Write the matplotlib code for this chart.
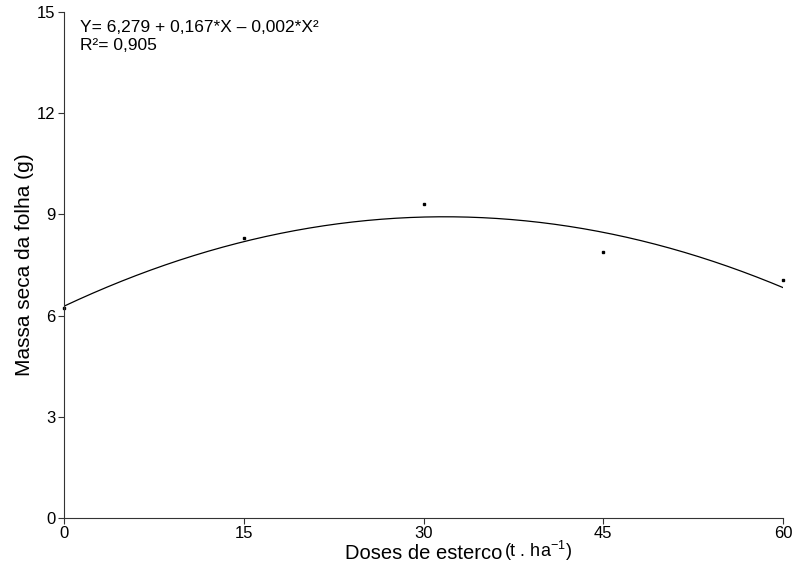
import numpy as np
import matplotlib.pyplot as plt

plt.rcParams['font.family'] = ['Liberation Sans', 'DejaVu Sans']

# dados observados
doses = [0, 15, 30, 45, 60]
massa = [6.23, 8.30, 9.31, 7.89, 7.06]

a0 = 6.279
a1 = 0.167
a2 = 0.00263

x_ticks = [0, 15, 30, 45, 60]
y_ticks = [0, 3, 6, 9, 12, 15]

fig = plt.figure(figsize=(7.93, 5.67), dpi=100)
ax = fig.add_axes([0.0807, 0.0864, 0.9067, 0.8924])

xx = np.linspace(0, 60, 300)
yy = a0 + a1 * xx - a2 * xx ** 2
ax.plot(xx, yy, color='k', lw=0.9)
ax.plot(doses, massa, 's', color='k', ms=2, clip_on=False)

ax.set_xlim(0, 60)
ax.set_ylim(0, 15)
ax.set_xticks(x_ticks)
ax.set_yticks(y_ticks)
ax.spines['top'].set_visible(False)
ax.spines['right'].set_visible(False)
ax.spines['left'].set_color('#333333')
ax.spines['bottom'].set_color('#333333')
ax.tick_params(direction='out', length=4, width=0.8, labelsize=12, pad=2, colors='#333333', labelcolor='k')

ax.set_ylabel('Massa seca da folha (g)', fontsize=15, labelpad=2)
ax.set_xlabel('Doses de esterco', fontsize=14.5, labelpad=2)
ax.annotate('(t . ha$^{\\mathregular{-1}}$)', xy=(1, 0), xycoords=ax.xaxis.label,
            xytext=(1.5, 0), textcoords='offset points',
            ha='left', va='bottom', fontsize=13)

ax.text(0.022, 0.985, 'Y= 6,279 + 0,167*X \u2013 0,002*X\u00b2\nR\u00b2= 0,905',
        transform=ax.transAxes, ha='left', va='top', fontsize=12.5, linespacing=1.3)

plt.savefig('out.png', dpi=100)
